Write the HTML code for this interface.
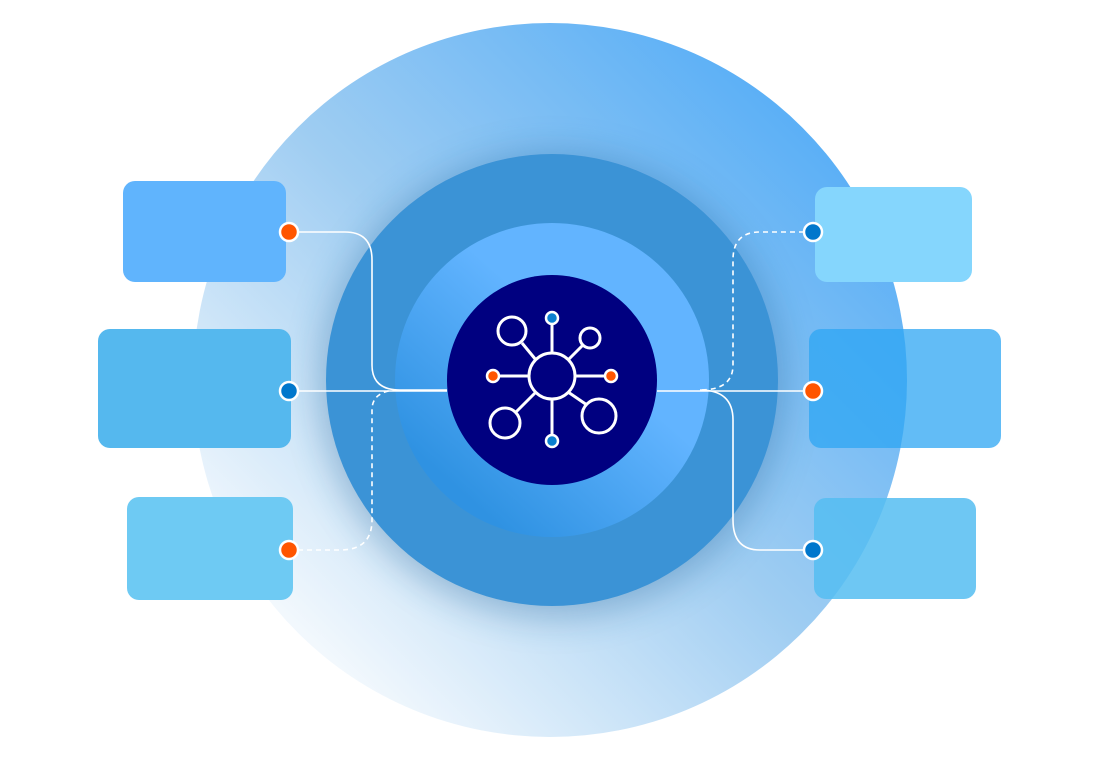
<!DOCTYPE html><html><head><style>html,body{margin:0;padding:0;background:#fff;width:1100px;height:760px;overflow:hidden}</style></head><body>
<svg width="1100" height="760" viewBox="0 0 1100 760" xmlns="http://www.w3.org/2000/svg">
<defs>
<linearGradient id="g1" x1="0.15" y1="0.85" x2="0.85" y2="0.15"><stop offset="0" stop-color="#f2f8fd"/><stop offset="0.5" stop-color="#9fcdf2"/><stop offset="1" stop-color="#5cb0f6"/></linearGradient>
<linearGradient id="g2" x1="0.2" y1="0.85" x2="0.6" y2="0.4"><stop offset="0" stop-color="#2f92e2"/><stop offset="1" stop-color="#62b4ff"/></linearGradient>
<filter id="sh" x="-30%" y="-30%" width="160%" height="160%"><feGaussianBlur stdDeviation="18"/></filter>
</defs>
<circle cx="550" cy="380" r="357" fill="url(#g1)"/>
<circle cx="552" cy="385" r="232" fill="#1f5f95" opacity="0.35" filter="url(#sh)"/>
<circle cx="552" cy="380" r="226" fill="#3b93d6"/>
<circle cx="552" cy="380" r="157" fill="url(#g2)"/>
<circle cx="552" cy="380" r="105" fill="#000080"/>
<rect x="123" y="181" width="163" height="101" rx="12" fill="#60b4fd"/>
<rect x="98" y="329" width="193" height="119" rx="12" fill="#55b8ee"/>
<rect x="127" y="497" width="166" height="103" rx="12" fill="#6ecaf3"/>
<rect x="815" y="187" width="157" height="95" rx="12" fill="#85d6fd"/>
<rect x="809" y="329" width="192" height="119" rx="12" fill="#2ea6f3" opacity="0.75"/>
<rect x="814" y="498" width="162" height="101" rx="12" fill="#55bdf1" opacity="0.85"/>
<g fill="none" stroke="#fff" stroke-width="1.6">
<path d="M289 232 H345 Q372 232 372 260 V365 Q372 390 400 390 H447"/>
<path d="M289 391 H447"/>
<path d="M289 550 H340 Q372 550 372 520 V410 Q372 392 395 390" stroke-dasharray="5 4"/>
<path d="M813 232 H760 Q733 232 733 260 V365 Q733 390 700 390" stroke-dasharray="5 4"/>
<path d="M657 391 H813"/>
<path d="M700 390 Q733 390 733 420 V520 Q733 550 760 550 H813"/>
</g>
<g stroke="#fff" stroke-width="2.5">
<circle cx="289" cy="232" r="9" fill="#ff5500"/>
<circle cx="289" cy="391" r="9" fill="#0077cc"/>
<circle cx="289" cy="550" r="9" fill="#ff5500"/>
<circle cx="813" cy="232" r="9" fill="#0077cc"/>
<circle cx="813" cy="391" r="9" fill="#ff5500"/>
<circle cx="813" cy="550" r="9" fill="#0077cc"/>
</g>
<g stroke="#fff" stroke-width="3" fill="none">
<circle cx="552" cy="376" r="23"/>
<line x1="552" y1="353" x2="552" y2="324"/><line x1="552" y1="399" x2="552" y2="434"/>
<line x1="529" y1="376" x2="499" y2="376"/><line x1="575" y1="376" x2="605" y2="376"/>
<line x1="536" y1="360" x2="522" y2="343"/><line x1="568" y1="360" x2="583" y2="345"/>
<line x1="536" y1="392" x2="516" y2="412"/><line x1="568" y1="392" x2="587" y2="405"/>
<circle cx="512" cy="331" r="14"/><circle cx="590" cy="338" r="10"/>
<circle cx="505" cy="423" r="15"/><circle cx="599" cy="416" r="17"/>
</g>
<g stroke="#fff" stroke-width="2.5">
<circle cx="552" cy="318" r="6" fill="#0a7fd0"/><circle cx="552" cy="441" r="6" fill="#0a7fd0"/>
<circle cx="493" cy="376" r="6" fill="#ff5500"/><circle cx="611" cy="376" r="6" fill="#ff5500"/>
</g>
</svg>
</body></html>
